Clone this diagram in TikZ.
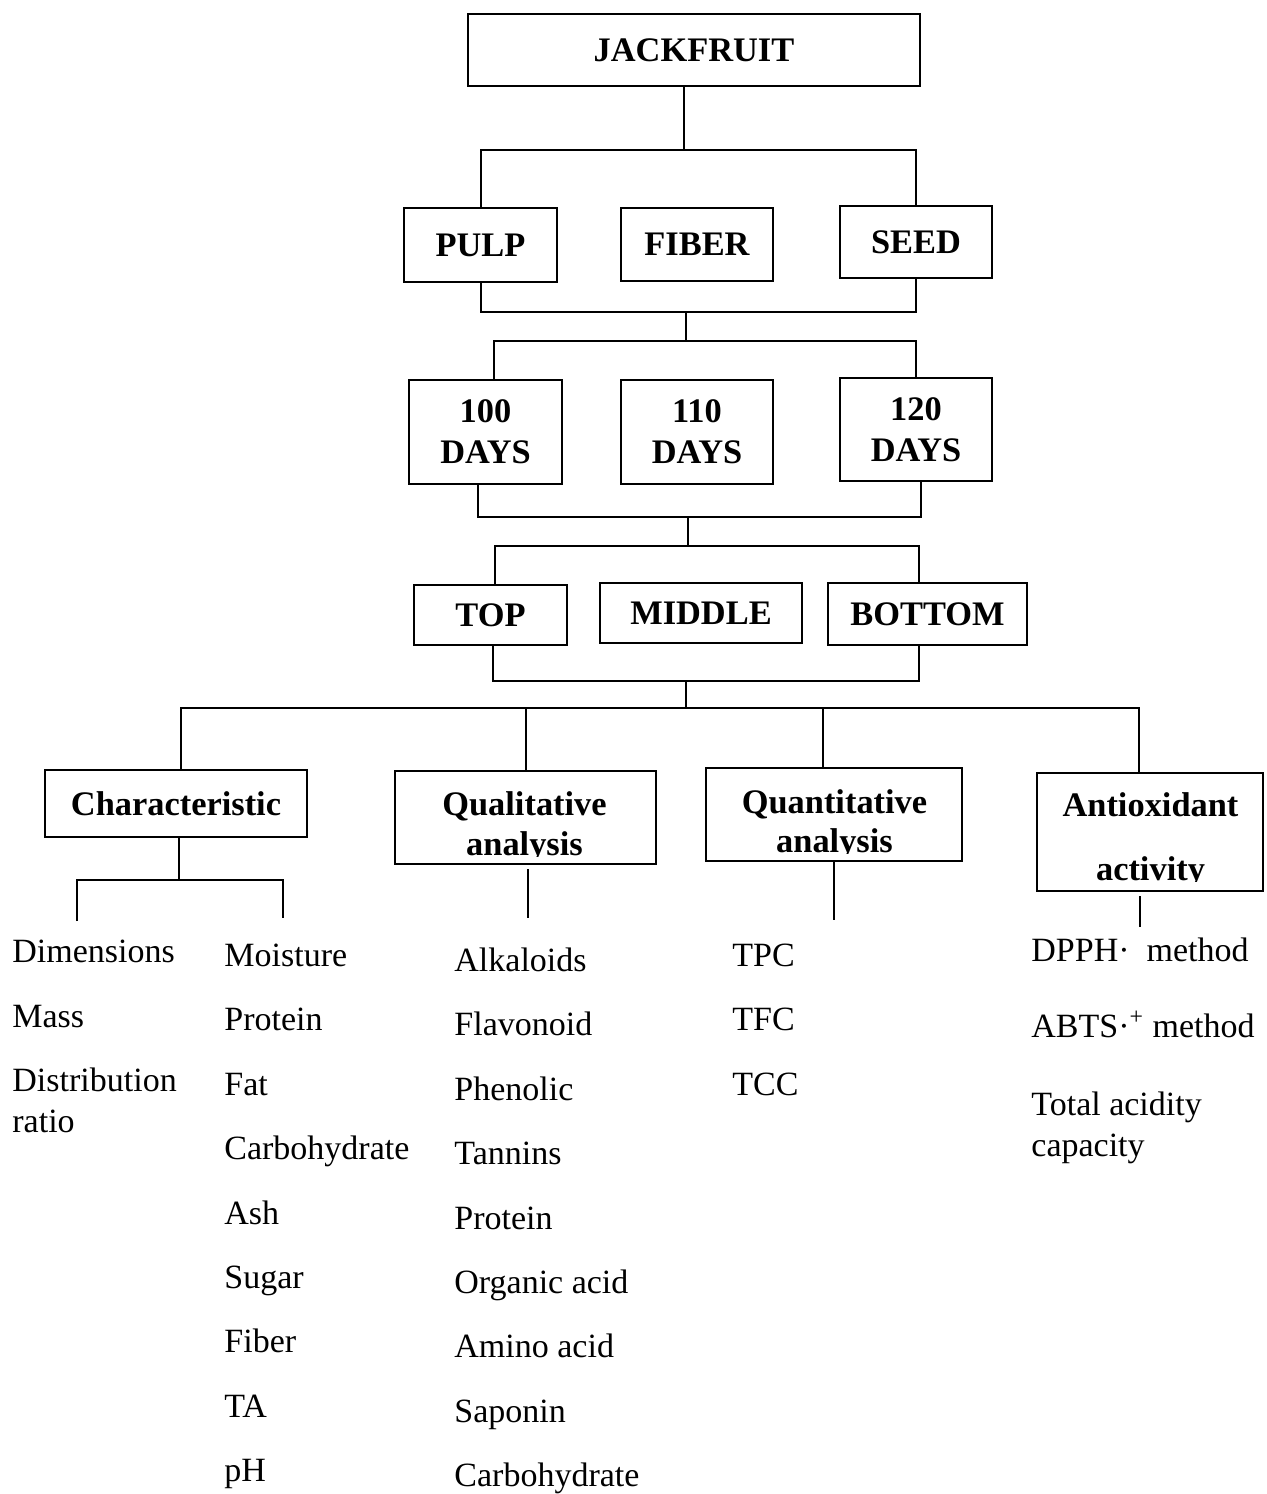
\documentclass[tikz,border=0pt]{standalone}
\usepackage{fontspec}
\setmainfont{Liberation Serif}
\usetikzlibrary{positioning}

\newcommand{\headfont}{\fontsize{17.2}{20.5}\selectfont\bfseries}
\newcommand{\itemfont}{\fontsize{17}{20.5}\selectfont}

\begin{document}
\begin{tikzpicture}[%
	x=0.5pt, y=-0.5pt,          % one unit = one pixel of the sketch
	every node/.style={inner sep=0pt},
	]
	% -------------------------------------------------
	% Box and text styles
	\tikzset{
		box/.style={draw, line width=1.1pt, align=center, font=\headfont},
		wh/.style 2 args={minimum width=#1*0.5pt, minimum height=#2*0.5pt},
		head/.style={align=center, font=\headfont, anchor=base},
		item/.style={align=left, font=\itemfont, anchor=base west},
		% connector lines
		link/.style={draw, line width=1pt}
	}
	\useasboundingbox (0,0) rectangle (1267,1494);

	\node[box, wh={452}{72}]	(jack)	at (694,50)	{JACKFRUIT};

	\node[box, wh={153}{74}]	(pulp)	at (480.5,245)	{PULP};
	\node[box, wh={152}{73}]	(fiber)	at (697,244.5)	{FIBER};
	\node[box, wh={152}{72}]	(seed)	at (916,242)	{SEED};

	\node[box, wh={153}{104}]	(d100)	at (485.5,432)	{100\\DAYS};
	\node[box, wh={152}{104}]	(d110)	at (697,432)	{110\\DAYS};
	\node[box, wh={152}{103}]	(d120)	at (916,429.5)	{120\\DAYS};

	\node[box, wh={153}{60}]	(ptop)	at (490.5,615)	{TOP};
	\node[box, wh={202}{60}]	(pmid)	at (701,613)	{MIDDLE};
	\node[box, wh={199}{62}]	(pbot)	at (927.5,614)	{BOTTOM};

	\node[box, wh={262}{67}]	(char)	at (176,803.5)	{Characteristic};
	\node[box, wh={261}{93}]	(qual)	at (525.5,817.5)	{};
	\node[box, wh={256}{93}]	(quant)	at (834,814.5)	{};
	\node[box, wh={226}{118}]	(anti)	at (1150,832)	{};

	% second lines are cut by the lower edge of the box
	\begin{scope}
		\clip (395,771) rectangle (656,856);
		\node[head] (qualtxt) at (524.5,855) {Qualitative\\[-0.5pt]analysis};
	\end{scope}
	\begin{scope}
		\clip (706,768) rectangle (962,853);
		\node[head] (quanttxt) at (834.5,852) {Quantitative\\[-1pt]analysis};
	\end{scope}
	\begin{scope}
		\clip (1037,773) rectangle (1263,881);
		\node[head] (antitxt) at (1150.5,880) {Antioxidant\\[11.5pt]activity};
	\end{scope}

	% -------------------------------------------------
	% Tree connectors
	\coordinate (j0) at (684,150);
	\draw[link] (jack.south -| j0) -- (j0);
	\draw[link] (pulp.north) |- (j0) -| (seed.north);

	\coordinate (p0) at (686,312);
	\coordinate (p1) at (686,341);
	\draw[link] (pulp.south) |- (p0) -| (seed.south);
	\draw[link] (p0) -- (p1);
	\draw[link] ([xshift=4pt]d100.north) |- (p1) -| (d120.north);

	\coordinate (d0) at (688,517);
	\coordinate (d1) at (688,546);
	\draw[link] ([xshift=-4pt]d100.south) |- (d0) -| ([xshift=2.5pt]d120.south);
	\draw[link] (d0) -- (d1);
	\draw[link] ([xshift=2pt]ptop.north) |- (d1) -| ([xshift=-4.25pt]pbot.north);

	\coordinate (l0) at (686,681);
	\coordinate (l1) at (686,708);
	\draw[link] ([xshift=1.25pt]ptop.south) |- (l0) -| ([xshift=-4.25pt]pbot.south);
	\draw[link] (l0) -- (l1);
	\draw[link] ([xshift=2.5pt]char.north) |- (l1) -| ([xshift=-5.5pt]anti.north);
	\draw[link] (qual.north) -- (qual.north |- l1);
	\draw[link] ([xshift=-5.5pt]quant.north) -- ([xshift=-5.5pt]quant.north |- l1);

	\coordinate (c0) at (179,880);
	\coordinate (c1) at (77,921);
	\coordinate (c2) at (283,918);
	\draw[link] (char.south -| c0) -- (c0);
	\draw[link] (c1) |- (c0) -| (c2);

	\coordinate (q0) at (528,918);
	\coordinate (t0) at (834,920);
	\coordinate (a0) at (1140,927);
	\draw[link, shorten <=2pt] (q0 |- qual.south) -- (q0);
	\draw[link] (t0 |- quant.south) -- (t0);
	\draw[link, shorten <=2pt] (a0 |- anti.south) -- (a0);

	% -------------------------------------------------
	% Lists under the boxes
	\node[item] (dim)	at (12,962)	{Dimensions};
	\node[item] (mass)	at (12,1027)	{Mass};
	\node[item] (dist)	at (12,1132)	{Distribution\\ratio};

	\node[item] (moist)	at (224,966)	{Moisture};
	\node[item] (prot)	at (224,1030)	{Protein};
	\node[item] (fat)	at (224,1095)	{Fat};
	\node[item] (carb)	at (224,1159)	{Carbohydrate};
	\node[item] (ash)	at (224,1224)	{Ash};
	\node[item] (sugar)	at (224,1288)	{Sugar};
	\node[item] (fib)	at (224,1352)	{Fiber};
	\node[item] (ta)	at (224,1417)	{TA};
	\node[item] (ph)	at (224,1481)	{pH};

	\node[item] (alk)	at (454,971)	{Alkaloids};
	\node[item] (flav)	at (454,1035)	{Flavonoid};
	\node[item] (phen)	at (454,1100)	{Phenolic};
	\node[item] (tann)	at (454,1164)	{Tannins};
	\node[item] (qprot)	at (454,1229)	{Protein};
	\node[item] (org)	at (454,1293)	{Organic acid};
	\node[item] (amino)	at (454,1357)	{Amino acid};
	\node[item] (sap)	at (454,1422)	{Saponin};
	\node[item] (qcarb)	at (454,1486)	{Carbohydrate};

	\node[item] (tpc)	at (732,966)	{TPC};
	\node[item] (tfc)	at (732,1030)	{TFC};
	\node[item] (tcc)	at (732,1095)	{TCC};

	\node[item] (dpph)	at (1031,961)	{DPPH·\ \ method};
	\node[item] (abts)	at (1031,1037)	{ABTS·\textsuperscript{+} method};
	\node[item] (tac)	at (1031,1156)	{Total acidity\\capacity};

\end{tikzpicture}
\end{document}
